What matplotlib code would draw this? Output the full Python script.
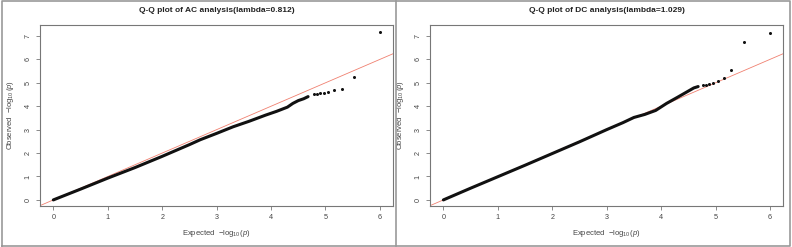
import matplotlib
matplotlib.use("Agg")
import matplotlib.pyplot as plt
from matplotlib.lines import Line2D

plt.rcParams['font.family'] = ['Liberation Sans', 'DejaVu Sans']
plt.rcParams['mathtext.fontset'] = 'custom'
plt.rcParams['mathtext.rm'] = 'Liberation Sans'
plt.rcParams['mathtext.it'] = 'Liberation Sans:italic'

# AC analysis: dense part of the Q-Q curve and the separate top points
ac_exp = [0.0, 0.5, 1.0, 1.5, 2.0, 2.5, 2.7, 3.0, 3.3, 3.6, 3.9, 4.1, 4.3, 4.4, 4.5, 4.6, 4.68]
ac_obs = [0.0, 0.46, 0.93, 1.38, 1.86, 2.36, 2.57, 2.84, 3.12, 3.36, 3.62, 3.78, 3.96, 4.12, 4.24, 4.32, 4.41]
ac_top_exp = [4.78, 4.84, 4.90, 4.97, 5.04, 5.16, 5.31, 5.52, 6.0]
ac_top_obs = [4.51, 4.54, 4.55, 4.58, 4.60, 4.71, 4.74, 5.25, 7.17]

# DC analysis
dc_exp = [0.0, 0.5, 1.0, 1.5, 2.0, 2.5, 3.0, 3.3, 3.5, 3.7, 3.9, 4.1, 4.3, 4.45, 4.6, 4.68]
dc_obs = [0.0, 0.5, 0.99, 1.48, 1.98, 2.48, 3.0, 3.3, 3.52, 3.65, 3.82, 4.12, 4.38, 4.58, 4.78, 4.84]
dc_top_exp = [4.77, 4.82, 4.88, 4.96, 5.04, 5.15, 5.29, 5.52, 6.0]
dc_top_obs = [4.91, 4.92, 4.93, 4.99, 5.09, 5.22, 5.56, 6.75, 7.11]

titles = ["Q-Q plot of AC analysis(lambda=0.812)", "Q-Q plot of DC analysis(lambda=1.029)"]
ticks = [0, 1, 2, 3, 4, 5, 6, 7]

fig = plt.figure(figsize=(7.92, 2.47), dpi=100)

frame_col = "#777777"
text_col = "#444444"

panels = [
    (0.0505, ac_exp, ac_obs, ac_top_exp, ac_top_obs, titles[0]),
    (0.543, dc_exp, dc_obs, dc_top_exp, dc_top_obs, titles[1]),
]

for left, ex, ob, tex, tob, title in panels:
    ax = fig.add_axes([left, 0.166, 0.4457, 0.733])
    ax.plot([-1, 8], [-1, 8], color="#f08070", lw=0.6, zorder=1)
    ax.plot(ex, ob, color="#111111", lw=2.2, solid_capstyle="round", solid_joinstyle="round", zorder=2)
    ax.plot(tex, tob, "o", color="#111111", ms=2.2, mew=0, zorder=3)
    ax.set_xlim(-0.245, 6.24)
    ax.set_ylim(-0.26, 7.47)
    ax.set_xticks(ticks[:7])
    ax.set_yticks(ticks)
    ax.tick_params(labelsize=5.2, colors=frame_col, labelcolor=text_col, length=3, width=0.6, pad=3)
    for lab in ax.get_yticklabels():
        lab.set_rotation(90)
        lab.set_va("center")
    for s in ax.spines.values():
        s.set_color(frame_col)
        s.set_linewidth(0.8)
    ax.set_xlabel(r"Expected  $-\log_{10}(\it{p})$", fontsize=5.5, color=text_col, labelpad=5)
    ax.set_ylabel(r"Observed  $-\log_{10}(\it{p})$", fontsize=5.5, color=text_col, labelpad=6)
    ax.set_title(title, fontsize=6, fontweight="bold", color="#222222", pad=9)

# outer border and separator line
border = dict(color="#999999", lw=1.2, transform=fig.transFigure)
fig.add_artist(Line2D([0.002, 0.998, 0.998, 0.002, 0.002], [0.004, 0.004, 0.996, 0.996, 0.004], **border))
fig.add_artist(Line2D([0.5, 0.5], [0.004, 0.996], **border))

fig.savefig("out.png", dpi=100)
